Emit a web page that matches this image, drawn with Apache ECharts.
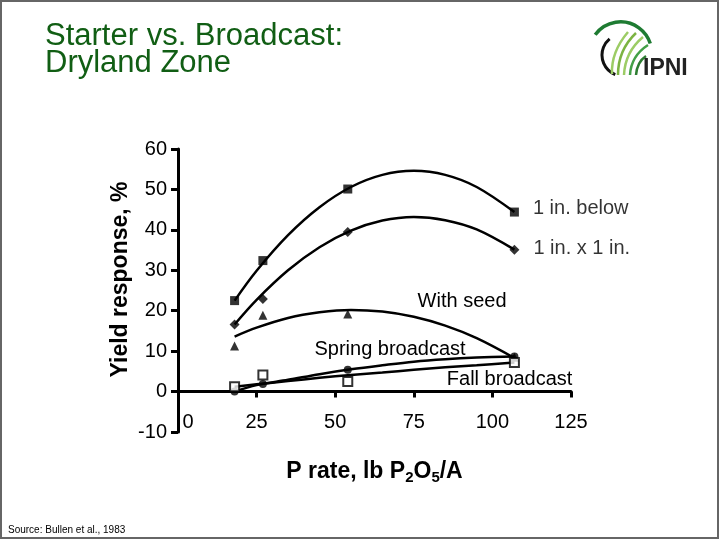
<!DOCTYPE html>
<html>
<head>
<meta charset="utf-8">
<script src="https://cdn.jsdelivr.net/npm/echarts@6/dist/echarts.min.js"></script>
<style>
html,body{margin:0;padding:0;background:#fff;}
#c{width:720px;height:540px;}
</style>
</head>
<body>
<div id="c"></div>
<script>
// ---- data ----
var xRates = [18, 27, 54, 107];
var belowPts = [22.5, 32.4, 50.1, 44.4];
var oneByOnePts = [16.6, 22.9, 39.5, 35.1];
var seedPts = [11.3, 18.9, 19.2, 8.5];
var springPts = [0, 1.9, 5.4, 8.7];
var fallPts = [1.2, 4.1, 2.5, 7.2];

// fitted response curves, read at these rates
var curveX = [18, 25, 35, 45, 55, 65, 75, 85, 95, 107];
var belowCurve = [22.5, 29.9, 38.7, 45.6, 50.6, 53.6, 54.6, 53.6, 50.6, 44.4];
var oneByOneCurve = [16.6, 22.7, 30.0, 35.7, 39.8, 42.3, 43.2, 42.4, 40.1, 35.1];
var seedCurve = [13.6, 15.8, 18.2, 19.6, 20.2, 19.8, 18.5, 16.3, 13.2, 8.3];
var springCurve = [0, 1.6, 2.9, 4.3, 5.5, 6.5, 7.4, 8.0, 8.4, 8.7];
var fallCurve = [1.2, 1.8, 2.6, 3.4, 4.1, 4.7, 5.4, 6.0, 6.5, 7.2];

var xTicks = [0, 25, 50, 75, 100, 125];
var yTicks = [-10, 0, 10, 20, 30, 40, 50, 60];

var seriesNames = ['1 in. below', '1 in. x 1 in.', 'With seed', 'Spring broadcast', 'Fall broadcast'];
// label anchor positions (data units) for the free-floating labels
var seedLabelAt = [76.2, 22.2];
var springLabelAt = [43.4, 10.3];
var fallLabelAt = [85.5, 2.9];

function pairs(xs, ys) { return xs.map(function (x, i) { return [x, ys[i]]; }); }

var FONT = '"Liberation Sans", Arial, sans-serif';
var chart = echarts.init(document.getElementById('c'), null, { renderer: 'canvas' });

function curve(ys, extra) {
  var s = {
    type: 'line', data: pairs(curveX, ys), smooth: 0.35, showSymbol: false, symbol: 'none',
    lineStyle: { color: '#000', width: 2.5 }, z: 2, silent: true
  };
  if (extra) for (var k in extra) s[k] = extra[k];
  return s;
}
function floatLabel(text, at) {
  return {
    data: [{ coord: at, value: text }],
    symbol: 'circle', symbolSize: 0,
    label: { show: true, formatter: text, position: [0, 0], align: 'left', verticalAlign: 'middle',
      color: '#000', fontSize: 20, fontFamily: FONT }
  };
}

var option = {
  animation: false,
  backgroundColor: '#fff',
  title: {
    text: 'Starter vs. Broadcast:\nDryland Zone',
    left: 40, top: 18,
    textStyle: { color: '#115e14', fontSize: 31, fontWeight: 'normal', fontFamily: FONT, lineHeight: 27 }
  },
  grid: { left: 178, right: 149, top: 149, bottom: 108 },
  xAxis: {
    type: 'value', min: 0, max: 125, interval: 25,
    axisLine: { show: true, onZero: true, lineStyle: { color: '#000', width: 3 } },
    axisTick: { show: true, length: 6, lineStyle: { color: '#000', width: 3 } },
    axisLabel: {
      margin: -20, color: '#000', fontSize: 20, fontFamily: FONT,
      formatter: function (v) { return v === 0 ? '{z|0}' : String(v); },
      rich: { z: { fontSize: 20, fontFamily: FONT, color: '#000', padding: [0, 0, 0, 20] } }
    },
    splitLine: { show: false },
    name: 'P rate, lb P{s|2}O{s|5}/A',
    nameLocation: 'middle', nameGap: 26,
    nameTextStyle: {
      color: '#000', fontSize: 23, fontWeight: 'bold', fontFamily: FONT,
      rich: { s: { fontSize: 15, fontWeight: 'bold', fontFamily: FONT, color: '#000', padding: [12, 0, 0, 0] } }
    }
  },
  yAxis: {
    type: 'value', min: -10, max: 60, interval: 10,
    axisLine: { show: true, onZero: false, lineStyle: { color: '#000', width: 3 } },
    axisTick: { show: true, length: 7, lineStyle: { color: '#000', width: 3 } },
    axisLabel: { margin: 11, color: '#000', fontSize: 20, fontFamily: FONT },
    splitLine: { show: false },
    name: 'Yield response, %',
    nameLocation: 'middle', nameGap: 46, nameRotate: 90, nameMoveOverlap: false,
    nameTextStyle: { color: '#000', fontSize: 23, fontWeight: 'bold', fontFamily: FONT, padding: [0, 0, 0, 22] }
  },
  series: [
    curve(belowCurve),
    curve(oneByOneCurve),
    curve(seedCurve, { markPoint: floatLabel(seriesNames[2], seedLabelAt) }),
    curve(springCurve, { markPoint: floatLabel(seriesNames[3], springLabelAt) }),
    curve(fallCurve, { markPoint: floatLabel(seriesNames[4], fallLabelAt) }),
    {
      name: seriesNames[0], type: 'scatter', symbol: 'rect', symbolSize: 9, z: 5,
      itemStyle: { color: '#000' },
      data: pairs(xRates, belowPts).map(function (p, i, a) {
        return i === a.length - 1 ? { value: p, label: { show: true, formatter: seriesNames[0], position: 'right',
          distance: 14, offset: [0, -4], color: '#000', fontSize: 20, fontFamily: FONT } } : p;
      })
    },
    {
      name: seriesNames[1], type: 'scatter', symbol: 'diamond', symbolSize: 10, z: 5,
      itemStyle: { color: '#000' },
      data: pairs(xRates, oneByOnePts).map(function (p, i, a) {
        return i === a.length - 1 ? { value: p, label: { show: true, formatter: seriesNames[1], position: 'right',
          distance: 14, offset: [0, -1], color: '#000', fontSize: 20, fontFamily: FONT } } : p;
      })
    },
    {
      name: seriesNames[2], type: 'scatter', symbol: 'triangle', symbolSize: 9, z: 5,
      itemStyle: { color: '#000' }, data: pairs(xRates, seedPts)
    },
    {
      name: seriesNames[3], type: 'scatter', symbol: 'circle', symbolSize: 8, z: 5,
      itemStyle: { color: '#000' }, data: pairs(xRates, springPts)
    },
    {
      name: seriesNames[4], type: 'scatter', symbol: 'rect', symbolSize: 9, z: 6,
      itemStyle: { color: '#fff', borderColor: '#000', borderWidth: 2 }, data: pairs(xRates, fallPts)
    }
  ],
  graphic: [
    { type: 'rect', shape: { x: 1, y: 1, width: 717, height: 537 }, style: { fill: 'none', stroke: '#666', lineWidth: 2 }, z: 100, silent: true },
    { type: 'text', left: 8, top: 525, style: { text: 'Source: Bullen et al., 1983', fill: '#000', font: '10px ' + FONT } },
    // IPNI logo
    { type: 'arc', shape: { cx: 620.5, cy: 53.2, r: 31.3, startAngle: Math.PI * 1.2, endAngle: Math.PI * 1.9 },
      style: { stroke: '#1e7b32', lineWidth: 3.5, fill: 'none' } },
    { type: 'arc', shape: { cx: 623, cy: 55, r: 21, startAngle: Math.PI * 0.62, endAngle: Math.PI * 1.28 },
      style: { stroke: '#111', lineWidth: 3, fill: 'none' } },
    { type: 'bezierCurve', shape: { x1: 612, y1: 74, cpx1: 611, cpy1: 52, x2: 628, y2: 32 }, style: { stroke: '#9ccc65', lineWidth: 2.5, fill: 'none' } },
    { type: 'bezierCurve', shape: { x1: 618, y1: 75, cpx1: 618, cpy1: 50, x2: 636, y2: 33 }, style: { stroke: '#7cb342', lineWidth: 2.5, fill: 'none' } },
    { type: 'bezierCurve', shape: { x1: 624, y1: 75, cpx1: 625, cpy1: 52, x2: 643, y2: 37 }, style: { stroke: '#9ccc65', lineWidth: 2.5, fill: 'none' } },
    { type: 'bezierCurve', shape: { x1: 630, y1: 75, cpx1: 631, cpy1: 56, x2: 648, y2: 45 }, style: { stroke: '#43a047', lineWidth: 2.5, fill: 'none' } },
    { type: 'bezierCurve', shape: { x1: 636, y1: 75, cpx1: 637, cpy1: 62, x2: 646, y2: 56 }, style: { stroke: '#2e7d32', lineWidth: 2.5, fill: 'none' } },
    { type: 'text', left: 643, top: 57, style: { text: 'IPNI', fill: '#222', font: 'bold 23px ' + FONT } }
  ]
};
chart.setOption(option);
</script>
</body>
</html>
